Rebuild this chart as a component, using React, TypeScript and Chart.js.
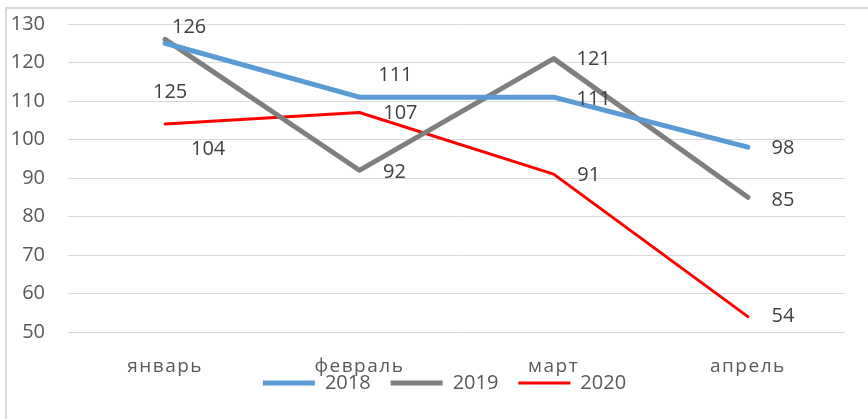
import React, { useEffect, useRef } from "react";
import { Chart, registerables } from "chart.js";

Chart.register(...registerables);

const categories = ["январь", "февраль", "март", "апрель"];
const seriesNames = ["2018", "2019", "2020"];
const values2018 = [125, 111, 111, 98];
const values2019 = [126, 92, 121, 85];
const values2020 = [104, 107, 91, 54];
const yMin = 50;
const yMax = 130;
const yStep = 10;

const labelOffsets2018 = [[5, 49], [36, -22], [40, 2], [35, 1]];
const labelOffsets2019 = [[24, -12], [35, 2], [40, 1], [35, 3]];
const labelOffsets2020 = [[43, 25], [41, 1], [35, 1], [35, 0]];

const FONT = "'Open Sans', 'Liberation Sans', sans-serif";
const TEXT = "#595959";
const LEGEND_CENTER_Y = 383;
const LEGEND_SHIFT_X = -12;

const labelsPlugin = {
  id: "valueLabels",
  afterLayout(chart: any) {
    const lg = chart.legend;
    if (!lg) return;
    const pad = lg.options.labels.padding;
    const fs = lg.options.labels.font.size;
    const top = LEGEND_CENTER_Y - pad - fs / 2;
    lg.top = top;
    lg.bottom = top + 60;
    lg.height = 60;
    lg.left += LEGEND_SHIFT_X;
    lg.right += LEGEND_SHIFT_X;
  },
  afterDatasetsDraw(chart: any) {
    const ctx = chart.ctx;
    const offsets = [labelOffsets2018, labelOffsets2019, labelOffsets2020];
    ctx.save();
    ctx.font = `20px ${FONT}`;
    ctx.fillStyle = "#404040";
    ctx.textAlign = "center";
    ctx.textBaseline = "middle";
    chart.data.datasets.forEach((ds: any, di: number) => {
      const meta = chart.getDatasetMeta(di);
      meta.data.forEach((pt: any, i: number) => {
        const [dx, dy] = offsets[di][i];
        ctx.fillText(String(ds.data[i]), pt.x + dx, pt.y + dy);
      });
    });
    ctx.restore();
    (ctx as any).letterSpacing = "1.5px";
  },
  afterDraw(chart: any) {
    (chart.ctx as any).letterSpacing = "0px";
  },
};

export default function App() {
  const ref = useRef<HTMLCanvasElement | null>(null);
  useEffect(() => {
    if (!ref.current) return;
    const chart = new Chart(ref.current, {
      type: "line",
      data: {
        labels: categories,
        datasets: [
          {
            label: seriesNames[0],
            data: values2018,
            borderColor: "#5B9BD5",
            backgroundColor: "#5B9BD5",
            borderWidth: 5,
          },
          {
            label: seriesNames[1],
            data: values2019,
            borderColor: "#7F7F7F",
            backgroundColor: "#7F7F7F",
            borderWidth: 5,
          },
          {
            label: seriesNames[2],
            data: values2020,
            borderColor: "#FF0000",
            backgroundColor: "#FF0000",
            borderWidth: 3,
          },
        ].map((d) => ({
          ...d,
          pointRadius: 0,
          pointHoverRadius: 0,
          tension: 0,
          fill: false,
          borderCapStyle: "round" as const,
          borderJoinStyle: "round" as const,
        })),
      },
      options: {
        animation: false,
        responsive: false,
        layout: { padding: { left: 0, right: 23, top: 24, bottom: 12 } },
        plugins: {
          tooltip: { enabled: false },
          legend: {
            position: "bottom",
            fullSize: false,
            maxHeight: 30,
            labels: {
              usePointStyle: true,
              pointStyle: "line",
              pointStyleWidth: 52,
              padding: 20,
              color: TEXT,
              font: { family: FONT, size: 20 },
            },
          },
        },
        scales: {
          x: {
            offset: true,
            grid: { display: false, drawTicks: false, offset: true },
            border: { display: false },
            ticks: {
              color: TEXT,
              font: { family: FONT, size: 19 },
              padding: 23,
              maxRotation: 0,
              autoSkip: false,
              z: 1,
            },
            afterFit: (scale: any) => {
              scale.height = 45;
              scale.paddingLeft = 0;
              scale.paddingRight = 0;
            },
          },
          y: {
            min: yMin,
            max: yMax,
            grid: { color: "#D9D9D9", lineWidth: 1, drawTicks: false },
            border: { display: false },
            ticks: {
              stepSize: yStep,
              color: TEXT,
              font: { family: FONT, size: 20 },
              padding: 23,
            },
            afterFit: (scale: any) => {
              scale.width = 68;
              scale.paddingTop = 0;
              scale.paddingBottom = 0;
            },
          },
        },
      },
      plugins: [labelsPlugin],
    });
    return () => chart.destroy();
  }, []);

  return (
    <div
      style={{
        position: "fixed",
        left: 0,
        top: 0,
        width: 868,
        height: 419,
        overflow: "hidden",
        background: "#fff",
      }}
    >
      <div
        style={{
          position: "absolute",
          left: 5,
          top: 7,
          width: 900,
          height: 500,
          border: "2px solid #D9D9D9",
          boxSizing: "border-box",
        }}
      />
      <canvas
        ref={ref}
        width={868}
        height={419}
        style={{ position: "absolute", left: 0, top: 0 }}
      />
    </div>
  );
}
